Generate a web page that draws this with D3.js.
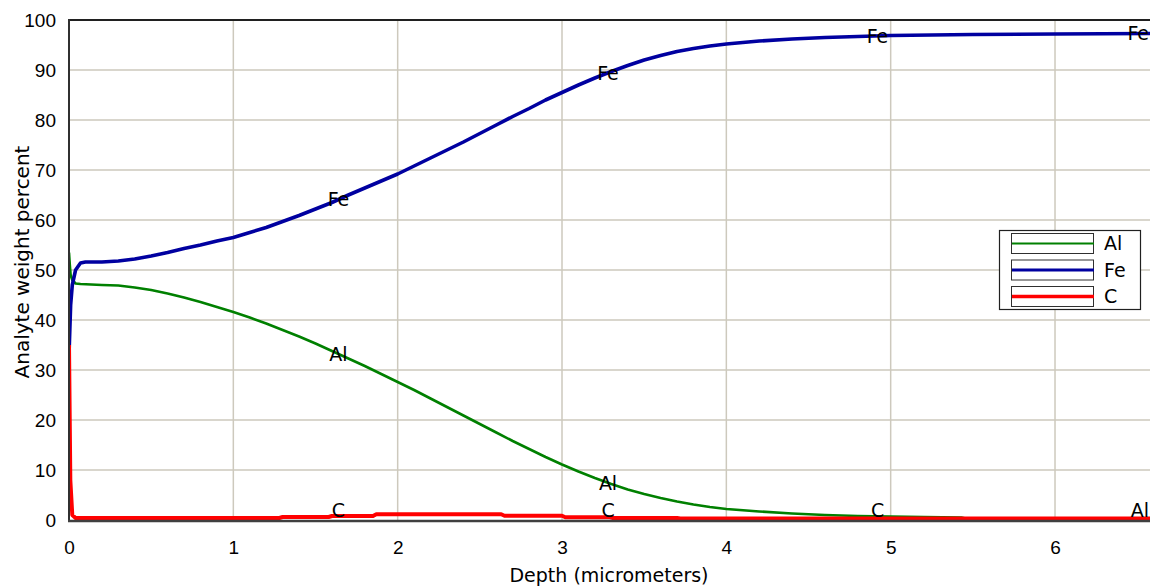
<!DOCTYPE html>
<html>
<head>
<meta charset="utf-8">
<script src="https://cdn.jsdelivr.net/npm/d3@7"></script>
<style>
  html, body { margin: 0; padding: 0; background: #fff; }
  svg { display: block; font-family: "DejaVu Sans", Verdana, sans-serif; }
</style>
</head>
<body>
<svg id="chart" width="1150" height="588"></svg>
<script>
// ---- data ----
const seriesNames = ["Al", "Fe", "C"];

const feDepth = [0, 0.005, 0.01, 0.02, 0.04, 0.07, 0.1, 0.2, 0.3, 0.4, 0.5, 0.6, 0.7, 0.8, 0.9, 1.0, 1.1, 1.2, 1.3, 1.4, 1.5, 1.6, 1.7, 1.8, 1.9, 2.0, 2.1, 2.2, 2.3, 2.4, 2.5, 2.6, 2.7, 2.8, 2.9, 3.0, 3.1, 3.2, 3.3, 3.4, 3.5, 3.6, 3.7, 3.8, 3.9, 4.0, 4.2, 4.4, 4.6, 4.8, 5.0, 5.5, 6.0, 6.58];
const feValue = [33, 38, 43, 47, 50, 51.4, 51.6, 51.6, 51.8, 52.2, 52.8, 53.5, 54.3, 55.0, 55.8, 56.5, 57.5, 58.5, 59.7, 60.9, 62.2, 63.5, 65.0, 66.4, 67.8, 69.2, 70.8, 72.4, 74.0, 75.6, 77.3, 79.0, 80.7, 82.3, 84.0, 85.5, 87.0, 88.4, 89.7, 90.9, 92.0, 92.9, 93.7, 94.3, 94.8, 95.2, 95.8, 96.2, 96.5, 96.7, 96.9, 97.1, 97.2, 97.3];

const alDepth = [0, 0.005, 0.01, 0.02, 0.04, 0.07, 0.2, 0.3, 0.4, 0.5, 0.6, 0.7, 0.8, 0.9, 1.0, 1.1, 1.2, 1.3, 1.4, 1.5, 1.6, 1.7, 1.8, 1.9, 2.0, 2.1, 2.2, 2.3, 2.4, 2.5, 2.6, 2.7, 2.8, 2.9, 3.0, 3.1, 3.2, 3.3, 3.4, 3.5, 3.6, 3.7, 3.8, 3.9, 4.0, 4.2, 4.4, 4.6, 4.8, 5.0, 5.2, 5.43, 5.45, 6.58];
const alValue = [53.5, 51, 49, 48, 47.3, 47.2, 47.0, 46.9, 46.5, 46.0, 45.3, 44.5, 43.6, 42.6, 41.6, 40.5, 39.3, 38.0, 36.7, 35.3, 33.8, 32.3, 30.8, 29.2, 27.6, 26.0, 24.3, 22.6, 20.9, 19.2, 17.5, 15.8, 14.2, 12.6, 11.1, 9.7, 8.4, 7.2, 6.1, 5.2, 4.4, 3.7, 3.1, 2.6, 2.2, 1.7, 1.3, 1.0, 0.8, 0.7, 0.6, 0.5, 0.35, 0.3];

const cDepth = [0, 0.008, 0.02, 0.04, 1.28, 1.3, 1.58, 1.6, 1.85, 1.87, 2.63, 2.65, 3.0, 3.02, 3.29, 3.31, 3.7, 3.72, 6.58];
const cValue = [35, 8, 1, 0.4, 0.4, 0.6, 0.6, 0.8, 0.8, 1.15, 1.15, 0.85, 0.85, 0.55, 0.55, 0.4, 0.4, 0.3, 0.3];

const xTicks = [0, 1, 2, 3, 4, 5, 6];
const yTicks = [0, 10, 20, 30, 40, 50, 60, 70, 80, 90, 100];
const xTitle = "Depth (micrometers)";
const yTitle = "Analyte weight percent";

// in-plot series labels: depths at which each series is annotated
const alLabelDepths = [1.64, 3.28, 6.56];
const feLabelDepths = [1.64, 3.28, 4.92, 6.56];
const cLabelDepths = [1.64, 3.28, 4.92];

// ---- layout ----
const svg = d3.select("#chart");
const L = 69, R = 1150, T = 20, B = 520;
const x = d3.scaleLinear().domain([0, 6.578]).range([L, R]);
const y = d3.scaleLinear().domain([0, 100]).range([B, T]);

const colors = { Al: "#008000", Fe: "#0000a0", C: "#ff0000" };
const widths = { Al: 2.6, Fe: 3.6, C: 4 };
const numFont = "Liberation Sans, Arial, sans-serif";
const txtFont = "DejaVu Sans, Verdana, sans-serif";

const series = [
  { name: "Al", pts: alDepth.map((d, i) => [d, alValue[i]]), labels: alLabelDepths },
  { name: "Fe", pts: feDepth.map((d, i) => [d, feValue[i]]), labels: feLabelDepths },
  { name: "C", pts: cDepth.map((d, i) => [d, cValue[i]]), labels: cLabelDepths }
];

// grid
const grid = svg.append("g");
grid.selectAll("line.v").data(xTicks.filter(t => t > 0)).enter().append("line")
  .attr("x1", d => x(d)).attr("x2", d => x(d)).attr("y1", T).attr("y2", B)
  .attr("stroke", "#cdc9bd").attr("stroke-width", 1.5);
grid.selectAll("line.h").data(yTicks.filter(t => t > 0 && t < 100)).enter().append("line")
  .attr("x1", L).attr("x2", R).attr("y1", d => y(d)).attr("y2", d => y(d))
  .attr("stroke", "#cdc9bd").attr("stroke-width", 1.5);

// axes via d3 axis generators (tick lines hidden)
const xAxis = svg.append("g").attr("transform", `translate(0,${B})`)
  .call(d3.axisBottom(x).tickValues(xTicks).tickSize(0).tickPadding(21).tickFormat(d3.format("d")));
const yAxis = svg.append("g").attr("transform", `translate(${L},0)`)
  .call(d3.axisLeft(y).tickValues(yTicks).tickSize(0).tickPadding(13).tickFormat(d3.format("d")));
[xAxis, yAxis].forEach(a => {
  a.select(".domain").remove();
  a.selectAll("text").attr("font-size", 19).attr("fill", "#000")
    .attr("font-family", numFont);
});

// clip
svg.append("clipPath").attr("id", "plotclip").append("rect")
  .attr("x", L).attr("y", T).attr("width", R - L).attr("height", B - T + 1);

const line = d3.line().x(d => x(d[0])).y(d => y(d[1]));
const plot = svg.append("g").attr("clip-path", "url(#plotclip)");
series.forEach(s => {
  plot.append("path").datum(s.pts)
    .attr("d", line)
    .attr("fill", "none")
    .attr("stroke", colors[s.name])
    .attr("stroke-width", widths[s.name])
    .attr("stroke-linejoin", "round");
});

// frame lines
svg.append("line").attr("x1", L).attr("x2", R).attr("y1", T).attr("y2", T)
  .attr("stroke", "#202020").attr("stroke-width", 2);
svg.append("line").attr("x1", L).attr("x2", L).attr("y1", T - 1).attr("y2", B + 1)
  .attr("stroke", "#303030").attr("stroke-width", 2);
svg.append("line").attr("x1", L - 1).attr("x2", R).attr("y1", B + 1).attr("y2", B + 1)
  .attr("stroke", "#404040").attr("stroke-width", 2.5);

// in-plot labels
function valueAt(pts, d) {
  const i = d3.bisector(p => p[0]).left(pts, d);
  if (i <= 0) return pts[0][1];
  if (i >= pts.length) return pts[pts.length - 1][1];
  const a = pts[i - 1], b = pts[i];
  return a[1] + (b[1] - a[1]) * (d - a[0]) / (b[0] - a[0]);
}
const labG = svg.append("g").attr("font-size", 19).attr("fill", "#000").attr("font-family", txtFont);
series.forEach(s => {
  s.labels.forEach(d => {
    const cy = Math.min(y(valueAt(s.pts, d)), B - 10);
    const t = labG.append("text").text(s.name)
      .attr("x", x(d)).attr("y", cy).attr("dy", "0.36em")
      .attr("text-anchor", "middle");
    const w = t.node().getComputedTextLength();
    if (x(d) + w / 2 > R - 1) t.attr("x", R - 1 - w / 2);
  });
});

// axis titles
svg.append("text").text(xTitle).attr("x", 609).attr("y", 582)
  .attr("text-anchor", "middle").attr("font-size", 19).attr("fill", "#000");
svg.append("text").text(yTitle)
  .attr("transform", `translate(29,262) rotate(-90)`)
  .attr("text-anchor", "middle").attr("font-size", 20).attr("fill", "#000");

// legend
const lg = svg.append("g");
lg.append("rect").attr("x", 999.5).attr("y", 230.5).attr("width", 141).attr("height", 79)
  .attr("fill", "#fff").attr("stroke", "#202020").attr("stroke-width", 1.2);
seriesNames.forEach((n, i) => {
  const ry = 233.5 + i * 26.5;
  lg.append("rect").attr("x", 1011.5).attr("y", ry).attr("width", 82).attr("height", 20)
    .attr("fill", "#fff").attr("stroke", "#303030").attr("stroke-width", 1);
  lg.append("line").attr("x1", 1012).attr("x2", 1094).attr("y1", ry + 10).attr("y2", ry + 10)
    .attr("stroke", colors[n]).attr("stroke-width", widths[n] - 0.5);
  lg.append("text").text(n).attr("x", 1104).attr("y", ry + 10).attr("dy", "0.36em")
    .attr("font-size", 19).attr("fill", "#000");
});
</script>
</body>
</html>
